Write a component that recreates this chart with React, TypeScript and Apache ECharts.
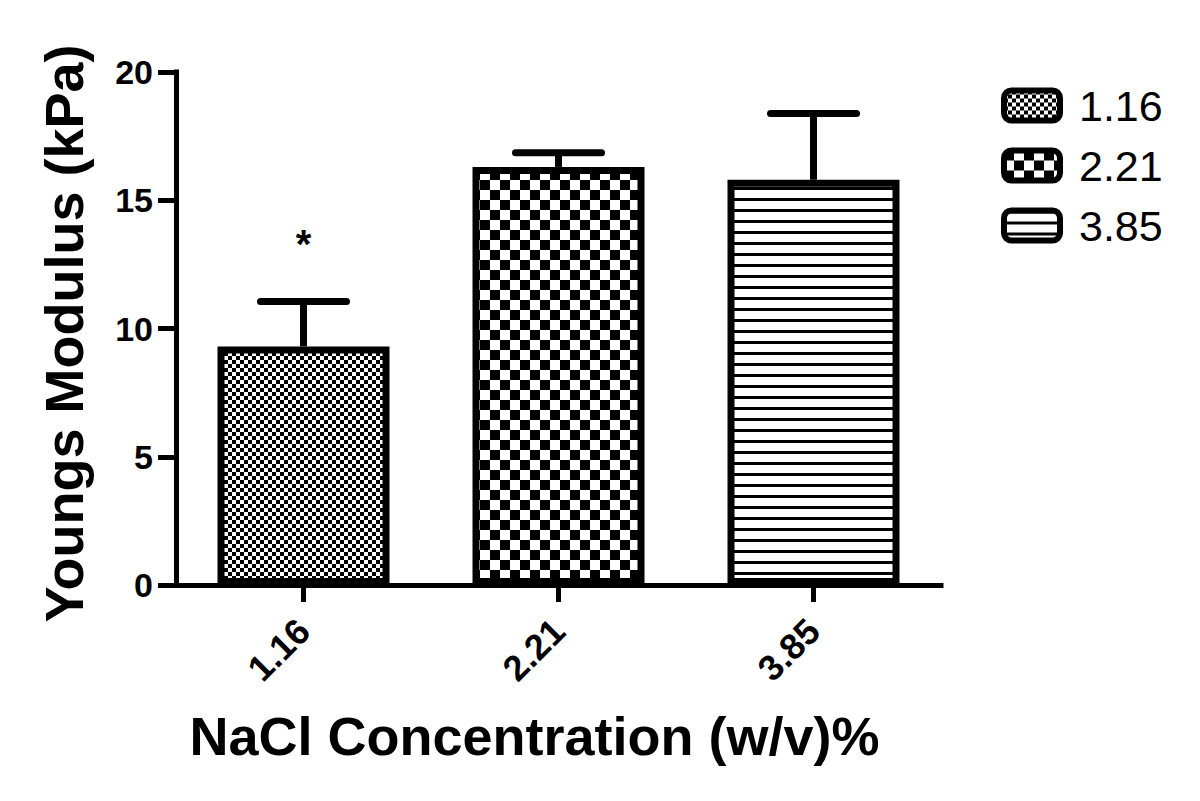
import React, { useEffect, useRef } from 'react';
import * as echarts from 'echarts';

const categories = ['1.16', '2.21', '3.85'];
const seriesNames = ['1.16', '2.21', '3.85'];
const means = [9.3, 16.3, 15.8];
const errorTops = [11.05, 16.85, 18.38];
const significance = ['*', '', ''];
const yMin = 0;
const yMax = 20;
const yInterval = 5;

const FONT = '"Liberation Sans", Arial, sans-serif';

function makePattern(kind: string) {
  const c = document.createElement('canvas');
  let w = 8;
  let h = 8;
  if (kind === 'fine') { w = 8; h = 8; }
  if (kind === 'coarse') { w = 20; h = 20; }
  if (kind === 'lines') { w = 10; h = 11; }
  c.width = w;
  c.height = h;
  const ctx = c.getContext('2d')!;
  ctx.fillStyle = '#fff';
  ctx.fillRect(0, 0, w, h);
  ctx.fillStyle = '#000';
  if (kind === 'fine') {
    ctx.fillRect(0, 0, 4, 4);
    ctx.fillRect(4, 4, 4, 4);
  } else if (kind === 'coarse') {
    ctx.fillRect(0, 0, 10, 10);
    ctx.fillRect(10, 10, 10, 10);
  } else {
    ctx.fillRect(0, 0, w, 3);
  }
  return { image: c.toDataURL(), imageWidth: w, imageHeight: h, repeat: 'repeat' };
}

export default function App() {
  const ref = useRef<HTMLDivElement>(null);
  useEffect(() => {
    if (!ref.current) return;
    const chart = echarts.init(ref.current, null, { renderer: 'svg' });
    const patterns = [makePattern('fine'), makePattern('coarse'), makePattern('lines')];

    const barSeries = seriesNames.map((name, i) => ({
      name,
      type: 'bar',
      barWidth: 172,
      barGap: '-100%',
      data: categories.map((_, j) => (j === i ? means[i] : '-')),
      itemStyle: {
        color: patterns[i],
        borderColor: '#000',
        borderWidth: 7,
      },
      z: 2,
    }));

    const errData = categories.map((_, i) => [i, means[i], errorTops[i]]);

    const errSeries = {
      type: 'custom',
      name: 'err',
      data: errData,
      z: 3,
      renderItem: (params: any, api: any) => {
        const idx = api.value(0);
        const top = api.coord([idx, api.value(1)]);
        const err = api.coord([idx, api.value(2)]);
        const half = 43;
        const children: any[] = [
          {
            type: 'line',
            shape: { x1: top[0], y1: top[1], x2: err[0], y2: err[1] },
            style: { stroke: '#000', lineWidth: 7 },
          },
          {
            type: 'line',
            shape: { x1: err[0] - half, y1: err[1], x2: err[0] + half, y2: err[1] },
            style: { stroke: '#000', lineWidth: 7, lineCap: 'round' },
          },
        ];
        const sig = significance[params.dataIndex];
        if (sig) {
          children.push({
            type: 'text',
            x: err[0],
            y: err[1] - 58,
            style: {
              text: sig,
              fill: '#000',
              font: `bold 40px ${FONT}`,
              align: 'center',
              verticalAlign: 'middle',
            },
          });
        }
        return { type: 'group', children };
      },
    };

    chart.setOption({
      animation: false,
      backgroundColor: '#fff',
      grid: { left: 176, right: 259, top: 72, bottom: 216, containLabel: false },
      legend: {
        orient: 'vertical',
        left: 996,
        top: 79,
        data: seriesNames,
        icon: 'roundRect',
        itemWidth: 56,
        itemHeight: 30,
        itemGap: 17,
        itemStyle: { borderColor: '#000', borderWidth: 6 },
        textStyle: { fontFamily: FONT, fontSize: 43, color: '#000', padding: [0, 0, 0, 14] },
      },
      xAxis: {
        type: 'category',
        data: categories,
        name: 'NaCl Concentration (w/v)%',
        nameLocation: 'middle',
        nameGap: 124,
        nameTextStyle: {
          fontFamily: FONT, fontSize: 54, fontWeight: 'bold', color: '#000', padding: [0, 48, 0, 0],
        },
        axisLine: { show: true, lineStyle: { color: '#000', width: 5, cap: 'square' } },
        axisTick: { show: true, alignWithLabel: true, length: 17, lineStyle: { color: '#000', width: 5 } },
        axisLabel: {
          rotate: 45, margin: 40, fontFamily: FONT, fontSize: 36, fontWeight: 'bold', color: '#000',
        },
        splitLine: { show: false },
      },
      yAxis: {
        type: 'value',
        min: yMin,
        max: yMax,
        interval: yInterval,
        name: 'Youngs Modulus (kPa)',
        nameLocation: 'middle',
        nameGap: 85,
        nameTextStyle: { fontFamily: FONT, fontSize: 54, fontWeight: 'bold', color: '#000', padding: [0, 10, 0, 0] },
        axisLine: { show: true, lineStyle: { color: '#000', width: 5, cap: 'square' } },
        axisTick: { show: true, length: 18, lineStyle: { color: '#000', width: 5 } },
        axisLabel: { margin: 23, fontFamily: FONT, fontSize: 34, fontWeight: 'bold', color: '#000' },
        splitLine: { show: false },
      },
      series: [...barSeries, errSeries],
    });
    return () => chart.dispose();
  }, []);
  return <div ref={ref} style={{ position: 'fixed', left: 0, top: 0, width: 1200, height: 801 }} />;
}
